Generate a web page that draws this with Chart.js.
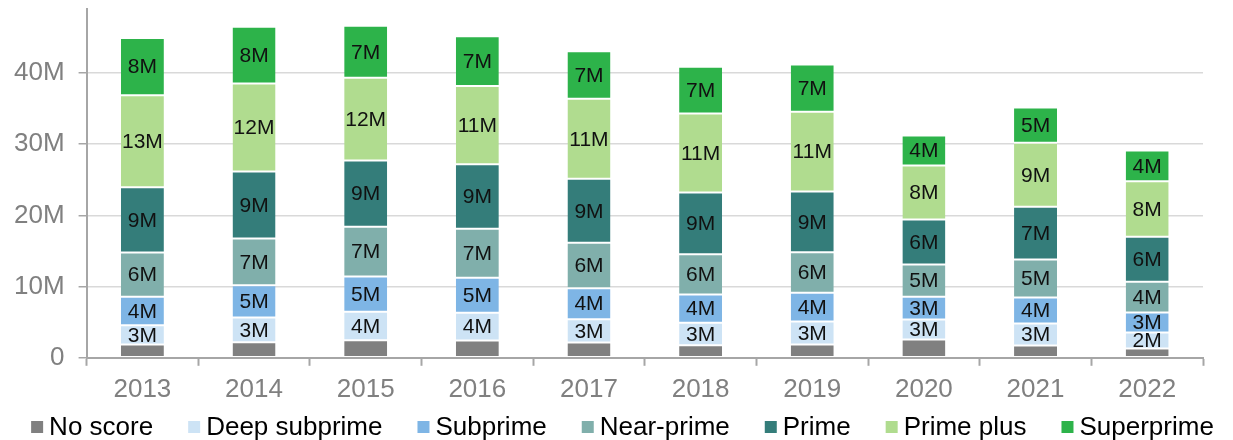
<!DOCTYPE html>
<html>
<head>
<meta charset="utf-8">
<script src="https://cdn.jsdelivr.net/npm/chart.js@4/dist/chart.umd.min.js"></script>
<style>
  body { margin: 0; background: #fff; }
  #wrap { width: 1233px; height: 440px; }
</style>
</head>
<body>
<div id="wrap"><canvas id="myChart"></canvas></div>
<script>
// values in millions
const years = ["2013", "2014", "2015", "2016", "2017", "2018", "2019", "2020", "2021", "2022"];
const noScore      = [1.87, 2.20, 2.48, 2.43, 2.15, 1.78, 1.87, 2.57, 1.73, 1.31];
const deepSubprime = [2.72, 3.46, 3.98, 3.89, 3.28, 3.14, 3.23, 2.81, 3.09, 2.25];
const subprime     = [3.98, 4.54, 4.96, 4.92, 4.35, 3.98, 4.03, 3.19, 3.65, 2.81];
const nearPrime    = [6.22, 6.55, 6.98, 6.88, 6.37, 5.66, 5.71, 4.55, 5.34, 4.30];
const prime        = [9.18, 9.41, 9.32, 9.08, 8.99, 8.66, 8.52, 6.32, 7.40, 6.32];
const primePlus    = [12.92, 12.36, 11.61, 11.00, 11.24, 11.10, 11.19, 7.59, 8.99, 7.82];
const superprime   = [8.05, 8.00, 7.30, 6.98, 6.69, 6.55, 6.65, 4.21, 4.96, 4.31];
const yTicks = [0, 10, 20, 30, 40];

const FONT = "'Liberation Sans', Arial, sans-serif";

function series(label, data, color, showLabels) {
  return {
    label: label,
    data: data,
    backgroundColor: color,
    borderColor: "#ffffff",
    borderWidth: { top: 1, bottom: 1, left: 0, right: 0 },
    borderSkipped: false,
    showLabels: showLabels
  };
}

// writes "8M" etc. in the middle of each segment
const segmentLabels = {
  id: "segmentLabels",
  afterDatasetsDraw(chart) {
    const ctx = chart.ctx;
    ctx.save();
    ctx.font = "21px " + FONT;
    ctx.fillStyle = "#111";
    ctx.textAlign = "center";
    ctx.textBaseline = "middle";
    chart.data.datasets.forEach((ds, i) => {
      if (!ds.showLabels) return;
      chart.getDatasetMeta(i).data.forEach((bar, j) => {
        const p = bar.getProps(["x", "y", "base"], true);
        ctx.fillText(Math.round(ds.data[j]) + "M", p.x, (p.y + p.base) / 2 + 1);
      });
    });
    ctx.restore();
  }
};

// legend row along the bottom, tighter than the built-in one
const bottomLegend = {
  id: "bottomLegend",
  afterDraw(chart) {
    const ctx = chart.ctx;
    const box = 12, gap = 6, spacing = 35, y = 427;
    ctx.save();
    ctx.font = "26px " + FONT;
    ctx.textBaseline = "middle";
    const items = chart.data.datasets.map(ds => ({
      ds: ds,
      w: box + gap + ctx.measureText(ds.label).width
    }));
    const total = items.reduce((s, it) => s + it.w, 0) + spacing * (items.length - 1);
    let x = (chart.width - total) / 2 + 6;
    items.forEach(it => {
      ctx.fillStyle = it.ds.backgroundColor;
      ctx.fillRect(x, y - box / 2, box, box);
      ctx.fillStyle = "#000";
      ctx.fillText(it.ds.label, x + box + gap, y + 1);
      x += it.w + spacing;
    });
    ctx.restore();
  }
};

new Chart(document.getElementById("myChart"), {
  type: "bar",
  data: {
    labels: years,
    datasets: [
      series("No score", noScore, "#808080", false),
      series("Deep subprime", deepSubprime, "#cde3f5", true),
      series("Subprime", subprime, "#7eb5e5", true),
      series("Near-prime", nearPrime, "#80afab", true),
      series("Prime", prime, "#347d7a", true),
      series("Prime plus", primePlus, "#b0dc8f", true),
      series("Superprime", superprime, "#2db34a", true)
    ]
  },
  options: {
    responsive: true,
    maintainAspectRatio: false,
    animation: false,
    layout: { padding: { left: 0, right: 30, top: 9, bottom: 27 } },
    datasets: { bar: { barPercentage: 0.385, categoryPercentage: 1 } },
    plugins: {
      tooltip: { enabled: false },
      legend: { display: false }
    },
    scales: {
      x: {
        stacked: true,
        grid: { drawOnChartArea: false, tickLength: 8, tickColor: "#a6a6a6", tickWidth: 2 },
        border: { color: "#a6a6a6", width: 2 },
        ticks: { color: "#808080", font: { family: FONT, size: 26 }, padding: 8 }
      },
      y: {
        stacked: true,
        min: 0,
        max: 49,
        afterBuildTicks(scale) {
          scale.ticks = yTicks.map(v => ({ value: v }));
        },
        afterFit(scale) {
          scale.paddingTop = 0;
        },
        grid: { color: "#d9d9d9", lineWidth: 1.5, tickLength: 8, tickColor: "#a6a6a6", tickWidth: 1.5 },
        border: { color: "#a6a6a6", width: 2 },
        ticks: {
          color: "#808080",
          font: { family: FONT, size: 26 },
          padding: 14,
          callback: v => (v === 0 ? "0" : v + "M")
        }
      }
    }
  },
  plugins: [segmentLabels, bottomLegend]
});
</script>
</body>
</html>
